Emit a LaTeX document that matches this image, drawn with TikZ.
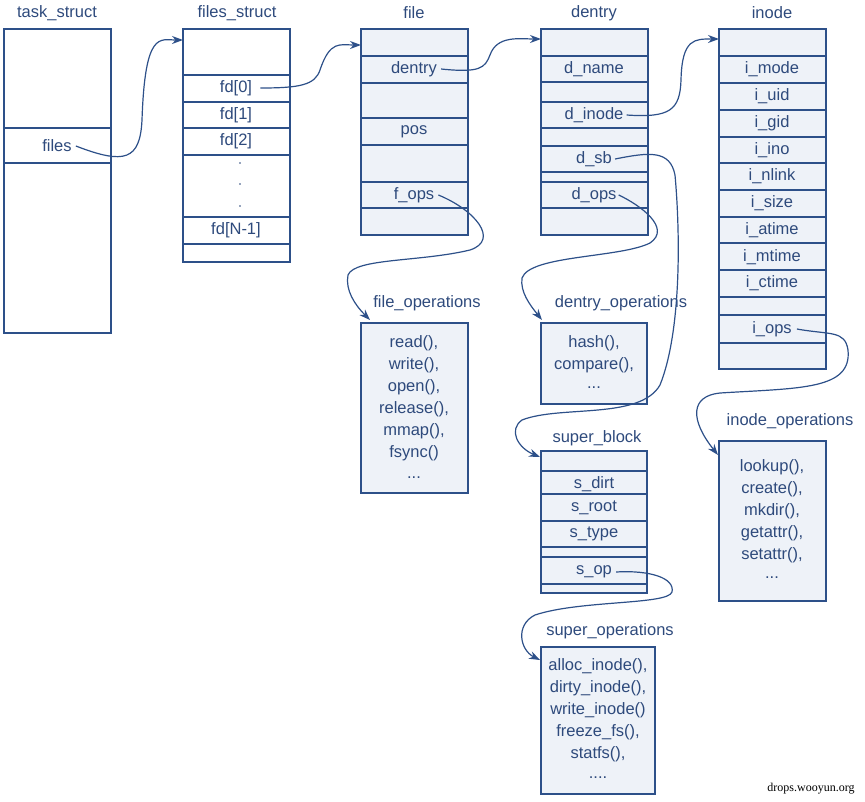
\documentclass[tikz,border=0pt]{standalone}
\usepackage{fontspec}
\setmainfont{Liberation Sans}
\newfontfamily\wmfont{Liberation Serif}
\usetikzlibrary{arrows.meta}
\definecolor{ln}{HTML}{2D5089}
\definecolor{tx}{HTML}{2E4A7C}
\definecolor{fl}{HTML}{EEF2F8}
\newcommand\mydots{...}
\newcommand\mydotsf{....}
\begin{document}
\begin{tikzpicture}[x=1pt,y=-1pt,
  box/.style={draw=ln,line width=1.3pt},
  t/.style={text=tx,font=\fontsize{16.5}{19}\selectfont,inner sep=0pt},
  ar/.style={draw=ln,line width=1.2pt,-{Stealth[length=11pt,width=8pt]}}]
\useasboundingbox (0,0) rectangle (865,801);
% task_struct
\node[t] (tsT) at (57,13) {task\_struct};
\draw[box,fill=white] (4,29) rectangle (111,333);
\draw[box] (4,128) -- (111,128) (4,163) -- (111,163);
\node[t] (files) at (57,146) {files};
% files_struct
\node[t] (fsT) at (237,13) {files\_struct};
\draw[box,fill=white] (183,29) rectangle (290,262);
\foreach \y in {75,102,128,155,217,244} \draw[box] (183,\y) -- (290,\y);
\node[t] (fd0) at (236,88) {fd[0]};
\node[t] at (236,115) {fd[1]};
\node[t] at (236,141) {fd[2]};
\foreach \y in {163,184,206} \fill[tx] (240,\y) circle (0.8);
\node[t] at (236,230) {fd[N-1]};
% file
\node[t] (fT) at (414,13) {file};
\draw[box,fill=fl] (361,29) rectangle (468,235);
\foreach \y in {56,83,118,145,182,208} \draw[box] (361,\y) -- (468,\y);
\node[t] (fden) at (414,69) {dentry};
\node[t] at (414,132) {pos};
\node[t] (fops) at (414,195) {f\_ops};
% dentry
\node[t] (dT) at (594,13) {dentry};
\draw[box,fill=fl] (541,29) rectangle (648,235);
\foreach \y in {56,82,102,128,146,172,182,208} \draw[box] (541,\y) -- (648,\y);
\node[t] at (594,69) {d\_name};
\node[t] (dino) at (594,115) {d\_inode};
\node[t] (dsb) at (594,159) {d\_sb};
\node[t] (dops) at (594,195) {d\_ops};
% inode
\node[t] (iT) at (772,13) {inode};
\draw[box,fill=fl] (719,29) rectangle (826,369);
\foreach \y in {56,83,110,137,163,190,217,243,270,297,315,343} \draw[box] (719,\y) -- (826,\y);
\foreach \n/\y in {i\_mode/69,i\_uid/96,i\_gid/123,i\_ino/150,i\_nlink/176,i\_size/203,i\_atime/230,i\_mtime/257,i\_ctime/283}
  \node[t] at (772,\y) {\n};
\node[t] (iops) at (772,329) {i\_ops};
% file_operations
\node[t] (foT) at (427,303) {file\_operations};
\draw[box,fill=fl] (361,323) rectangle (468,493);
\foreach \n/\y in {{read(),}/343,{write(),}/365,{open(),}/387,{release(),}/409,{mmap(),}/431,{fsync()}/453,{\mydots}/478}
  \node[t] at (414,\y) {\n};
% dentry_operations
\node[t] (doT) at (621,303) {dentry\_operations};
\draw[box,fill=fl] (541,323) rectangle (647,404);
\foreach \n/\y in {{hash(),}/343,{compare(),}/365,{\mydots}/388}
  \node[t] at (594,\y) {\n};
% super_block
\node[t] (sbT) at (597,438) {super\_block};
\draw[box,fill=fl] (541,451) rectangle (647,593);
\foreach \y in {471,494,521,547,557,584} \draw[box] (541,\y) -- (647,\y);
\node[t] at (594,484) {s\_dirt};
\node[t] at (594,508) {s\_root};
\node[t] at (594,534) {s\_type};
\node[t] (sop) at (594,572) {s\_op};
% inode_operations
\node[t] (ioT) at (790,421) {inode\_operations};
\draw[box,fill=fl] (719,441) rectangle (826,601);
\foreach \n/\y in {{lookup(),}/467,{create(),}/489,{mkdir(),}/511,{getattr(),}/533,{setattr(),}/555,{\mydots}/578}
  \node[t] at (772,\y) {\n};
% super_operations
\node[t] (soT) at (610,631) {super\_operations};
\draw[box,fill=fl] (541,647) rectangle (655,794);
\foreach \n/\y in {{alloc\_inode(),}/666,{dirty\_inode(),}/688,{write\_inode()}/710,{freeze\_fs(),}/732,{statfs(),}/754,{\mydotsf}/778}
  \node[t] at (598,\y) {\n};
% watermark
\node[font=\fontsize{12}{13}\selectfont\wmfont,inner sep=0pt] (wm) at (811,789) {drops.wooyun.org};
% arrows
\coordinate (a1) at (183,40); \coordinate (a2) at (361,45);
\coordinate (a3) at (541,39); \coordinate (a4) at (719,39);
\draw[ar] ([xshift=4pt]files.east) .. controls (125,165) and (140,160) .. (142,120) .. controls (145,30) and (160,40) .. (a1);
\draw[ar] ([xshift=8pt]fd0.east) .. controls (300,88) and (315,85) .. (320,70) .. controls (330,40) and (340,45) .. (a2);
\draw[ar] ([xshift=4pt]fden.east) .. controls (480,73) and (485,68) .. (490,55) .. controls (497,35) and (520,39) .. (a3);
\draw[ar] ([xshift=3pt]dino.east) .. controls (670,118) and (680,110) .. (681,80) .. controls (682,38) and (695,39) .. (a4);
\draw[ar] ([xshift=4pt]fops.east) .. controls (475,210) and (500,240) .. (470,250) .. controls (420,262) and (355,258) .. (348,275) .. controls (345,290) and (355,305) .. (370,320);
\draw[ar] ([xshift=2pt]dops.east) .. controls (640,205) and (672,228) .. (650,243) .. controls (620,258) and (530,255) .. (522,278) .. controls (520,292) and (530,305) .. (542,320);
\draw[ar] ([xshift=3pt]dsb.east) .. controls (650,152) and (670,150) .. (675,175) .. controls (680,230) and (682,330) .. (660,385) .. controls (640,420) and (560,405) .. (522,420) .. controls (508,430) and (518,448) .. (540,457);
\draw[ar] ([xshift=5pt]iops.east) .. controls (830,335) and (845,330) .. (848,350) .. controls (852,390) and (800,388) .. (720,393) .. controls (690,396) and (690,420) .. (718,455);
\draw[ar] ([xshift=4pt]sop.east) .. controls (650,570) and (675,578) .. (672,592) .. controls (668,605) and (580,600) .. (535,615) .. controls (515,625) and (520,650) .. (540,660);
\end{tikzpicture}
\end{document}
